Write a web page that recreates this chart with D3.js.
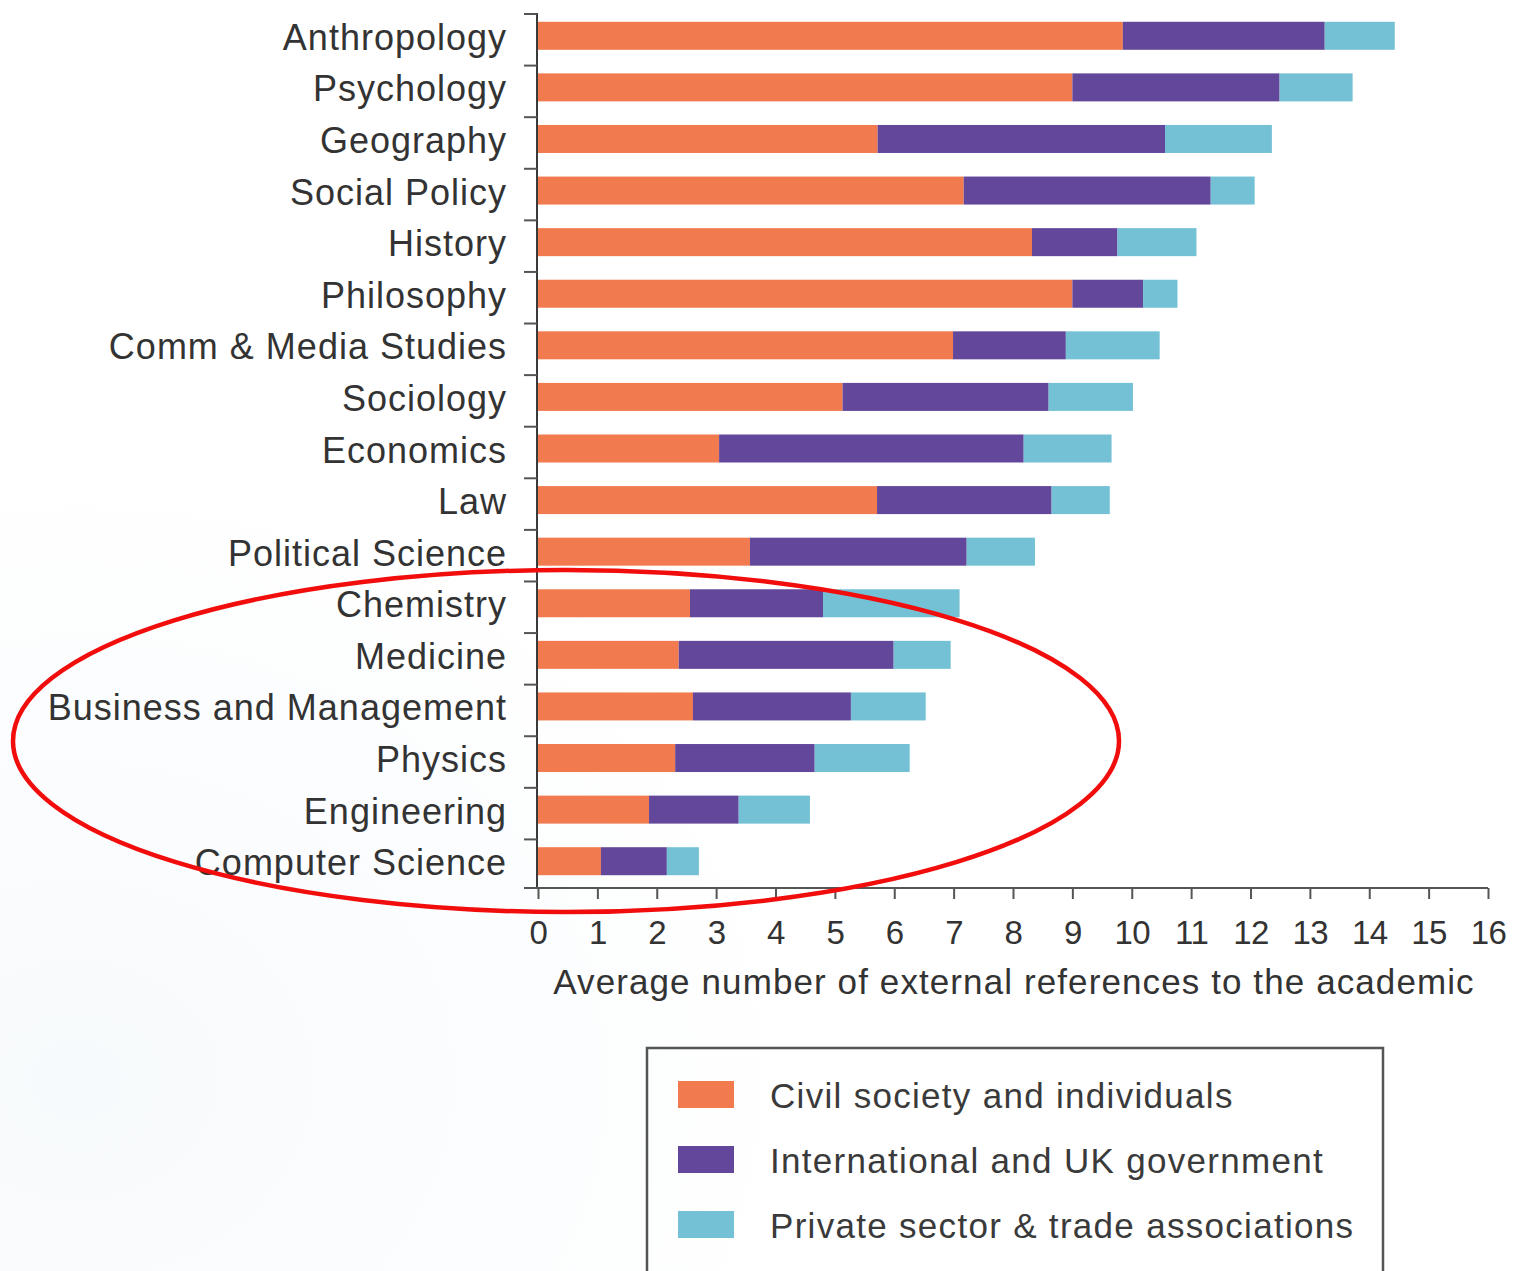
<!DOCTYPE html>
<html>
<head>
<meta charset="utf-8">
<script src="https://cdn.jsdelivr.net/npm/d3@7"></script>
<style>
  html, body { margin: 0; padding: 0; background: #ffffff; }
  svg { display: block; }
</style>
</head>
<body>
<svg id="chart" width="1521" height="1271"></svg>
<script>
// Disciplines, top to bottom
const categories = [
  "Anthropology", "Psychology", "Geography", "Social Policy", "History",
  "Philosophy", "Comm & Media Studies", "Sociology", "Economics", "Law",
  "Political Science", "Chemistry", "Medicine", "Business and Management",
  "Physics", "Engineering", "Computer Science"
];

// Average number of external references, by type of referencing organisation
const civilSociety = [9.85, 9.00, 5.72, 7.17, 8.32, 9.00, 6.99, 5.13, 3.05, 5.71, 3.57, 2.56, 2.37, 2.61, 2.31, 1.87, 1.06];
const government   = [3.40, 3.49, 4.84, 4.16, 1.44, 1.19, 1.90, 3.47, 5.13, 2.94, 3.65, 2.24, 3.62, 2.66, 2.35, 1.51, 1.11];
const privateSector = [1.18, 1.23, 1.80, 0.74, 1.33, 0.58, 1.58, 1.42, 1.48, 0.98, 1.15, 2.30, 0.96, 1.26, 1.60, 1.20, 0.54];

const seriesNames = [
  "Civil society and individuals",
  "International and UK government",
  "Private sector & trade associations"
];
const seriesKeys = ["civil", "gov", "private"];
const seriesColors = ["#f27a4f", "#62479a", "#74c1d5"];

const xTickValues = d3.range(0, 17);
const xAxisTitle = "Average number of external references to the academic";

const FONT = "'Liberation Sans', Arial, Helvetica, sans-serif";

// Rows for the stack generator
const rows = categories.map((c, i) => ({
  category: c,
  civil: civilSociety[i],
  gov: government[i],
  private: privateSector[i]
}));

const svg = d3.select("#chart").attr("font-family", FONT);

// faint paper tone toward the lower left
const defs = svg.append("defs");
const grad = defs.append("radialGradient")
  .attr("id", "paper").attr("cx", "0.05").attr("cy", "0.85").attr("r", "0.5");
grad.append("stop").attr("offset", "0").attr("stop-color", "#f7fafc");
grad.append("stop").attr("offset", "1").attr("stop-color", "#ffffff");
svg.append("rect").attr("width", 1521).attr("height", 1271).attr("fill", "url(#paper)");

const x = d3.scaleLinear().domain([0, 16]).range([538, 1488]);
const y = d3.scaleBand().domain(categories).range([10, 887]).paddingInner(0).paddingOuter(0);
const barH = 28;

const stack = d3.stack().keys(seriesKeys);
const stacked = stack(rows);
const color = d3.scaleOrdinal().domain(seriesKeys).range(seriesColors);

// Stacked bars
svg.append("g").selectAll("g")
  .data(stacked)
  .join("g")
  .attr("fill", d => color(d.key))
  .selectAll("rect")
  .data(d => d)
  .join("rect")
  .attr("x", d => x(d[0]))
  .attr("width", d => x(d[1]) - x(d[0]))
  .attr("y", d => y(d.data.category) + (y.step() - barH) / 2)
  .attr("height", barH);

// Y axis: spine, ticks at row boundaries, category labels
const yAxisG = svg.append("g");
yAxisG.append("line")
  .attr("x1", 537).attr("x2", 537)
  .attr("y1", 13).attr("y2", 888)
  .attr("stroke", "#3a3a3a").attr("stroke-width", 2);
const boundaries = categories.map(c => y(c));
yAxisG.selectAll("line.bt")
  .data(boundaries)
  .join("line")
  .attr("class", "bt")
  .attr("x1", 524).attr("x2", 537)
  .attr("y1", d => d + 4).attr("y2", d => d + 4)
  .attr("stroke", "#555").attr("stroke-width", 2);
yAxisG.selectAll("text")
  .data(categories)
  .join("text")
  .attr("x", 507)
  .attr("y", d => y(d) + y.step() / 2 + 14)
  .attr("text-anchor", "end")
  .attr("font-family", FONT)
  .attr("font-size", 36)
  .attr("letter-spacing", 1.0)
  .attr("fill", "#333")
  .text(d => d);

// X axis
const xAxis = d3.axisBottom(x).tickValues(xTickValues).tickSize(11).tickPadding(22).tickSizeOuter(0);
const xAxisG = svg.append("g").attr("transform", "translate(0,888)").call(xAxis);
xAxisG.attr("font-family", FONT);
xAxisG.select(".domain").remove();
xAxisG.append("line")
  .attr("x1", 524).attr("x2", 1488).attr("y1", 0).attr("y2", 0)
  .attr("stroke", "#555").attr("stroke-width", 2);
xAxisG.selectAll(".tick line").attr("stroke", "#555").attr("stroke-width", 2);
xAxisG.selectAll(".tick text")
  .attr("font-size", 33)
  .attr("letter-spacing", -0.5)
  .attr("fill", "#333");

svg.append("text")
  .attr("x", 1014).attr("y", 994)
  .attr("text-anchor", "middle")
  .attr("font-family", FONT)
  .attr("font-size", 35)
  .attr("letter-spacing", 1.1)
  .attr("fill", "#333")
  .text(xAxisTitle);

// Legend
const legend = svg.append("g");
legend.append("rect")
  .attr("x", 647).attr("y", 1048).attr("width", 736).attr("height", 240)
  .attr("fill", "none").attr("stroke", "#555").attr("stroke-width", 2.5);
const li = legend.selectAll("g.item")
  .data(seriesKeys)
  .join("g")
  .attr("class", "item")
  .attr("transform", (d, i) => `translate(678,${1081 + i * 65})`);
li.append("rect")
  .attr("width", 56).attr("height", 27)
  .attr("fill", d => color(d));
li.append("text")
  .attr("x", 92).attr("y", 27)
  .attr("font-family", FONT)
  .attr("font-size", 35)
  .attr("letter-spacing", 1.3)
  .attr("fill", "#3a3a3a")
  .text((d, i) => seriesNames[i]);

// Highlight around the science disciplines
svg.append("ellipse")
  .attr("cx", 566).attr("cy", 741)
  .attr("rx", 553).attr("ry", 171)
  .attr("fill", "none")
  .attr("stroke", "#f20d0d")
  .attr("stroke-width", 4.5);
</script>
</body>
</html>
